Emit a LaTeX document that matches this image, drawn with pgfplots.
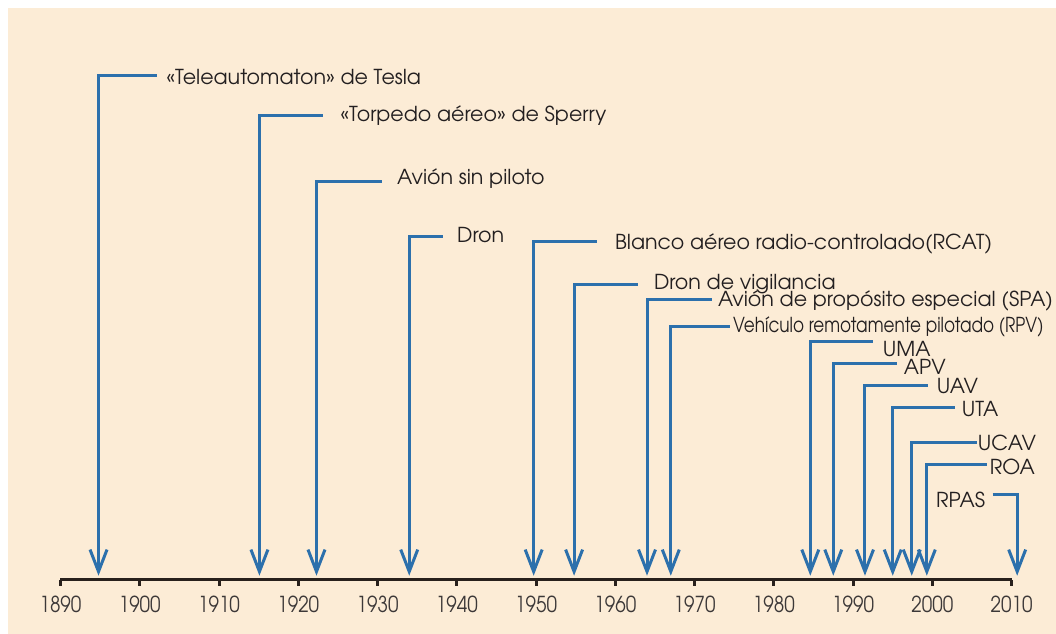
\documentclass[border=0pt]{standalone}
\usepackage{fontspec}
\setmainfont{texgyreadventor}[Extension=.otf, UprightFont=*-regular, BoldFont=*-bold, ItalicFont=*-italic, BoldItalicFont=*-bolditalic]
\usepackage{graphicx}
\usepackage{pgfplots}
\pgfplotsset{compat=1.18}
\usetikzlibrary{arrows.meta}
\definecolor{bgc}{RGB}{252,236,214}
\definecolor{arrc}{RGB}{44,112,172}
\definecolor{axc}{RGB}{40,32,28}
\definecolor{txc}{RGB}{35,31,32}
\definecolor{tkc}{RGB}{60,56,56}
\tikzset{
  arr/.style={line width=1.5pt, color=arrc, line join=miter, -{Straight Barb[length=11pt,width=8.5pt,line width=1.5pt]}},
  lbl/.style={inner sep=0pt, text=txc, font=\fontsize{10.3}{12}\selectfont, yshift=-3.8pt},
}
\begin{document}
\begin{tikzpicture}
\begin{axis}[
  set layers,
  x=3.965pt, y=0.5pt,
  xmin=1890, xmax=2010, ymin=0, ymax=572,
  axis x line*=bottom, axis y line=none,
  x axis line style={line width=1.5pt, color=axc, -},
  xtick={1890,1900,1910,1920,1930,1940,1950,1960,1970,1980,1990,2000,2010},
  xticklabel={\scalebox{0.86}[1]{\pgfmathprintnumber[1000 sep={},assume math mode=true]{\tick}}},
  tick align=outside,
  major tick length=3pt,
  every tick/.style={line width=1.5pt, color=axc},
  xticklabel style={font=\fontsize{11}{13}\selectfont, text=tkc, yshift=-1.5pt},
  clip=false,
]
\begin{pgfonlayer}{axis background}
\fill[bgc] (axis cs:1883.38,-54) rectangle (axis cs:2015.6,572);
\end{pgfonlayer}
\path (axis cs:1882.37,-54) rectangle (axis cs:2015.6,580);

% Tesla
\addplot[arr] coordinates {(1902.17,504) (1894.8,504) (1894.8,4)};
\node[lbl,anchor=base west] at (axis cs:1903.3,503) {«Teleautomaton» de Tesla};
% Sperry
\addplot[arr] coordinates {(1923.10,464) (1915.1,464) (1915.1,4)};
\node[lbl,anchor=base west] at (axis cs:1925.25,466) {«Torpedo aéreo» de Sperry};
% Avion sin piloto
\addplot[arr] coordinates {(1930.54,398) (1922.3,398) (1922.3,4)};
\node[lbl,anchor=base west] at (axis cs:1932.43,403) {Avión sin piloto};
% Dron
\addplot[arr] coordinates {(1938.23,343) (1934.0,343) (1934.0,4)};
\node[lbl,anchor=base west] at (axis cs:1940.0,345) {Dron};
% Blanco
\addplot[arr] coordinates {(1957.66,338) (1949.7,338) (1949.7,4)};
\node[lbl,anchor=base west] at (axis cs:1959.92,338) {Blanco aéreo radio-controlado(RCAT)};
% Dron de vigilancia
\addplot[arr] coordinates {(1962.83,295) (1954.8,295) (1954.8,4)};
\node[lbl,anchor=base west] at (axis cs:1964.84,298) {Dron de vigilancia};
% SPA
\addplot[arr] coordinates {(1972.16,280) (1964.0,280) (1964.0,4)};
\node[lbl,anchor=base west] at (axis cs:1972.91,280.5) {Avión de propósito especial (SPA)};
% RPV
\addplot[arr] coordinates {(1974.43,253) (1967.0,253) (1967.0,4)};
\node[lbl,anchor=base west] at (axis cs:1974.8,255) {\scalebox{0.82}[1]{Vehículo remotamente pilotado (RPV)}};
% UMA
\addplot[arr] coordinates {(1992.46,238) (1984.6,238) (1984.6,4)};
\node[lbl,anchor=base west] at (axis cs:1993.72,231) {UMA};
% APV
\addplot[arr] coordinates {(1995.49,216) (1987.5,216) (1987.5,4)};
\node[lbl,anchor=base west] at (axis cs:1996.37,212.5) {APV};
% UAV
\addplot[arr] coordinates {(1999.40,194) (1991.5,194) (1991.5,4)};
\node[lbl,anchor=base west] at (axis cs:2000.53,193.5) {UAV};
% UTA
\addplot[arr] coordinates {(2002.81,172) (1995.0,172) (1995.0,4)};
\node[lbl,anchor=base west] at (axis cs:2003.68,171) {UTA};
% UCAV
\addplot[arr] coordinates {(2005.58,137) (1997.4,137) (1997.4,4)};
\node[lbl,anchor=base west] at (axis cs:2005.7,137) {UCAV};
% ROA
\addplot[arr] coordinates {(2006.84,115) (1999.3,115) (1999.3,4)};
\node[lbl,anchor=base west] at (axis cs:2007.22,113) {ROA};
% RPAS
\addplot[arr] coordinates {(2007.59,85) (2010.7,85) (2010.7,4)};
\node[lbl,anchor=base east] at (axis cs:2006.71,80) {RPAS};
\end{axis}
\end{tikzpicture}
\end{document}
